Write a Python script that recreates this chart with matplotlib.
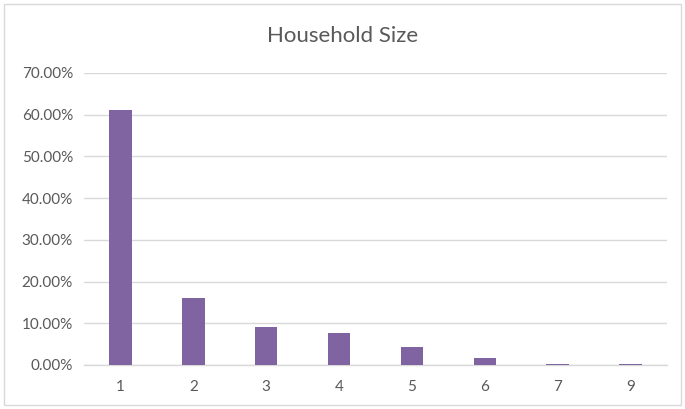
import numpy as np
import matplotlib.pyplot as plt
from matplotlib.patches import Rectangle
from matplotlib.ticker import FuncFormatter

# household size shares
sizes = ['1', '2', '3', '4', '5', '6', '7', '9']
shares = [0.611, 0.160, 0.090, 0.077, 0.042, 0.016, 0.003, 0.003]

barColor = '#8064A2'
textColor = '#595959'
gridColor = '#D9D9D9'

plt.rcParams['font.family'] = ['Lato', 'DejaVu Sans']

fig = plt.figure(figsize=[6.85, 4.09], dpi=100)
ax = fig.add_axes([84 / 685, 1 - 365 / 409, (667 - 84) / 685, (365 - 73) / 409])

x = np.arange(len(sizes))
ax.bar(x, shares, width=0.31, color=barColor, zorder=3)

ax.set_xlim(-0.5, len(sizes) - 0.5)
ax.set_ylim(0, 0.7)
ax.set_yticks(np.arange(0, 0.71, 0.1))
ax.yaxis.set_major_formatter(FuncFormatter(lambda v, p: '%.2f%%' % (v * 100)))
ax.set_xticks(x, sizes)

ax.grid(axis='y', color=gridColor, linewidth=1, zorder=0)
for side in ['left', 'right', 'top']:
    ax.spines[side].set_visible(False)
ax.spines['bottom'].set_color(gridColor)
ax.spines['bottom'].set_linewidth(1)
ax.tick_params(axis='both', length=0, colors=textColor, labelsize=11)
ax.tick_params(axis='x', pad=11)
ax.tick_params(axis='y', pad=8)

fig.text(0.5, 1 - 36 / 409, 'Household Size', ha='center', va='center',
         fontsize=16, color=textColor)

# chart border
fig.patches.append(Rectangle((4 / 685, 4 / 409), 677 / 685, 401 / 409,
                             transform=fig.transFigure, fill=False,
                             edgecolor=gridColor, linewidth=1))

plt.savefig('out.png', dpi=100)
